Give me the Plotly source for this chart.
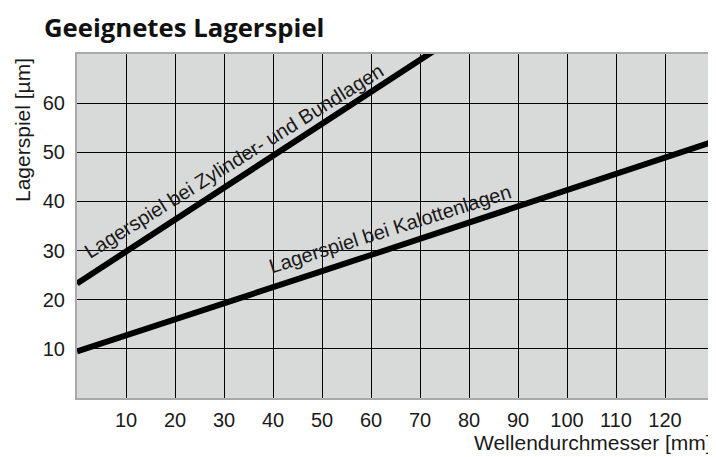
import plotly.graph_objects as go

# Data
diameter = [0, 10, 20, 30, 40, 50, 60, 70, 80, 90, 100, 110, 120, 130]
spiel_kalotten = [9.5, 12.7, 16.0, 19.3, 22.6, 25.8, 29.1, 32.4, 35.7, 39.0, 42.3, 45.6, 48.9, 52.2]
spiel_zylinder = [23.3, 29.8, 36.3, 42.8, 49.3, 55.8, 62.3, 68.8, 75.3, 81.8, 88.3, 94.8, 101.3, 107.8]
x_ticks = [10, 20, 30, 40, 50, 60, 70, 80, 90, 100, 110, 120]
y_ticks = [10, 20, 30, 40, 50, 60]

title_text = "Geeignetes Lagerspiel"
x_title = "Wellendurchmesser [mm]"
y_title = "Lagerspiel [µm]"
label_zyl = "Lagerspiel bei Zylinder- und Bundlagen"
label_kal = "Lagerspiel bei Kalottenlagen"

FONT = "Arial"
GREY = "#a9a9a9"
TXT = "#1a1a1a"

# page has an 8px body margin, so the figure is 8px smaller
W, H = 708, 449
L, T, R, B = 69, 46, 2, 59
PW, PH = W - L - R, H - T - B

fig = go.Figure()
fig.add_trace(go.Scatter(x=diameter, y=spiel_zylinder, mode="lines",
                         line=dict(color="black", width=6), showlegend=False,
                         hoverinfo="skip"))
fig.add_trace(go.Scatter(x=diameter, y=spiel_kalotten, mode="lines",
                         line=dict(color="black", width=6), showlegend=False,
                         hoverinfo="skip"))

fig.update_layout(
    width=W, height=H,
    margin=dict(l=L, r=R, t=T, b=B, autoexpand=False),
    paper_bgcolor="white",
    plot_bgcolor="#d8d9d9",
    font=dict(family=FONT, size=20, color=TXT),
    title=dict(text=f"<b>{title_text}</b>", x=36 / W, xref="container", xanchor="left",
               y=1 - 20 / H, yref="container", yanchor="middle",
               font=dict(family="Open Sans", size=25.7, color="#111111")),
    xaxis=dict(range=[0, 130], tickvals=x_ticks, showgrid=True, gridcolor="black",
               gridwidth=1, zeroline=False, showline=True, linecolor=GREY, linewidth=2,
               mirror=True, ticks="outside", ticklen=3, tickcolor="rgba(0,0,0,0)",
               tickfont=dict(family=FONT, size=20, color=TXT), fixedrange=True,
               automargin=False),
    yaxis=dict(range=[0, 70], tickvals=y_ticks, showgrid=True, gridcolor="black",
               gridwidth=1, zeroline=False, showline=True, linecolor=GREY, linewidth=2,
               mirror=True, ticks="outside", ticklen=6, tickcolor="rgba(0,0,0,0)",
               tickfont=dict(family=FONT, size=20, color=TXT), fixedrange=True,
               automargin=False),
    annotations=[
        dict(text=label_zyl, x=32.0, y=48.2, xref="x", yref="y", showarrow=False,
             textangle=-32, font=dict(family=FONT, size=20, color=TXT),
             xanchor="center", yanchor="middle"),
        dict(text=label_kal, x=63.8, y=34.3, xref="x", yref="y", showarrow=False,
             textangle=-17.5, font=dict(family=FONT, size=20, color=TXT),
             xanchor="center", yanchor="middle"),
        dict(text=y_title, x=(15 - L) / PW, y=(T + PH - 122) / PH, xref="paper", yref="paper",
             showarrow=False, textangle=-90, xanchor="center", yanchor="middle",
             font=dict(family=FONT, size=21, color=TXT)),
        dict(text=x_title, x=1, y=(T + PH - 434) / PH, xref="paper", yref="paper",
             showarrow=False, xanchor="right", yanchor="middle",
             font=dict(family=FONT, size=21, color=TXT)),
    ],
)

fig.write_html("out.html")
